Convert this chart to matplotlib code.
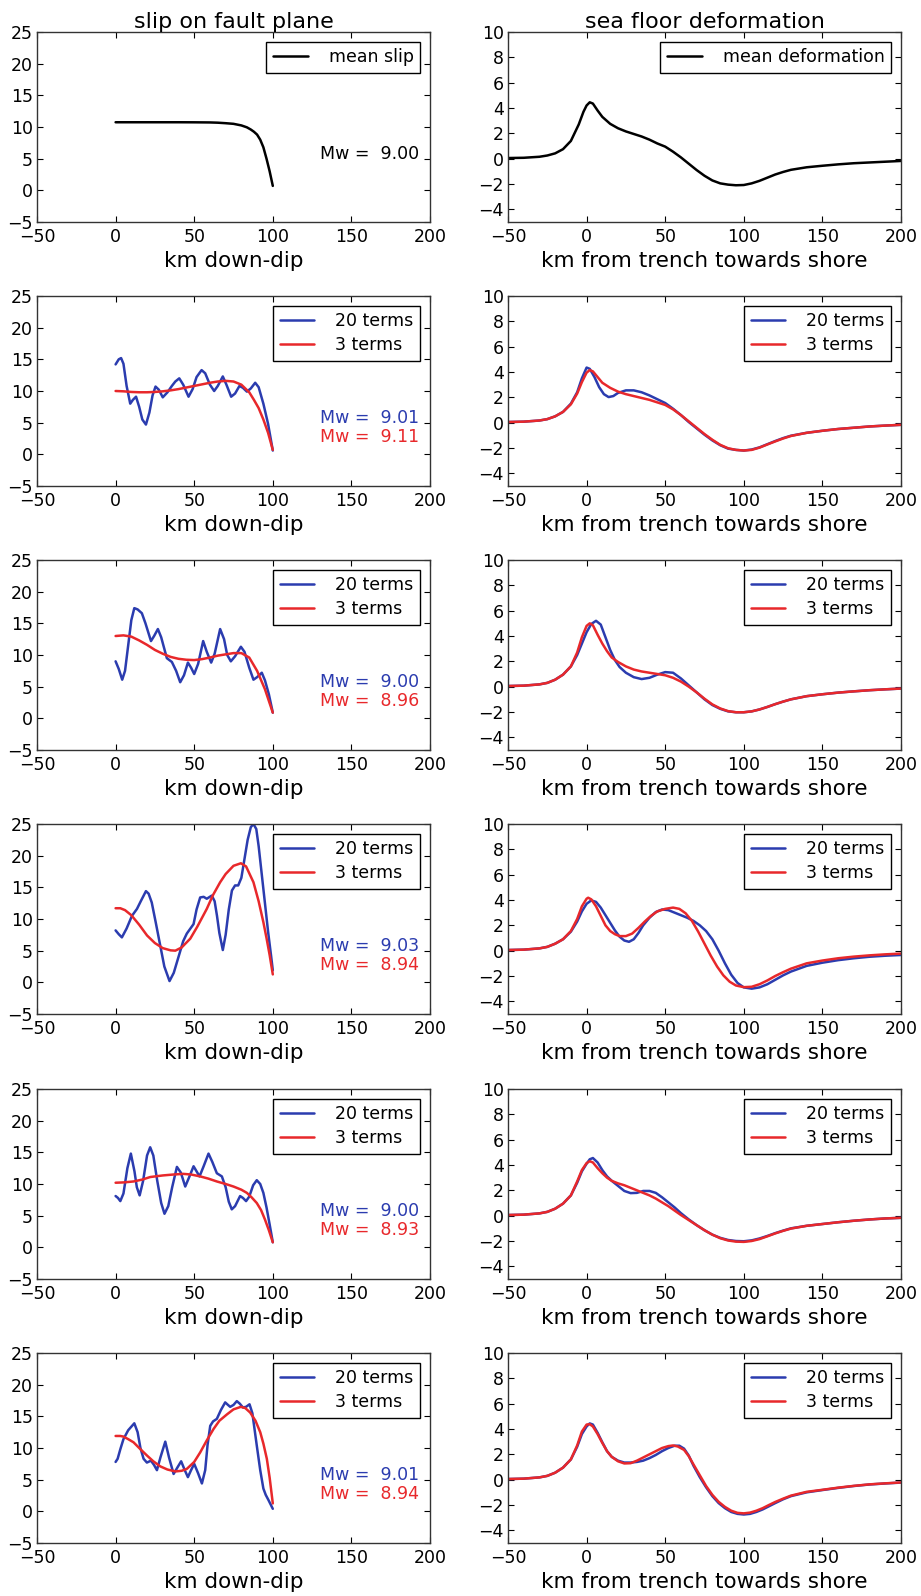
import matplotlib
matplotlib.use("Agg")
import matplotlib.pyplot as plt

BLUE = '#2b3caf'
RED = '#e8282b'

# ---------------- slip on fault plane (km down-dip, slip) ----------------
slip1_x = [0, 10, 20, 30, 40, 50, 60, 65, 70, 75, 80, 83.5, 86, 88, 90, 92, 94, 96, 98, 100]
slip1_y = [10.75, 10.75, 10.75, 10.75, 10.75, 10.74, 10.72, 10.68, 10.6, 10.5, 10.25, 9.95,
           9.6, 9.25, 8.8, 8.0, 6.8, 5.0, 3.0, 0.7]

slip2_b_x = [0, 2, 3.5, 5, 7, 9.3, 11, 13, 15, 17, 19.3, 21.5, 23.5, 25.4, 27.5, 30, 33, 35.8, 38,
             40.5, 43, 46.4, 49, 51.5, 54.7, 57, 60, 62.7, 65, 68.2, 70.5, 73.5, 76, 78.8, 81, 83.5,
             86, 88.8, 91, 94, 97, 100]
slip2_b_y = [14.2, 15.0, 15.2, 14.3, 10.8, 8.0, 8.6, 9.1, 7.5, 5.5, 4.7, 6.6, 9.3, 10.7, 10.2, 9.0,
             9.8, 10.8, 11.5, 12.0, 11.0, 9.1, 10.3, 12.2, 13.3, 12.8, 11.0, 10.0, 10.8, 12.3, 11.0,
             9.1, 9.6, 10.8, 10.5, 9.9, 10.4, 11.3, 10.6, 8.0, 4.8, 0.6]
slip2_r_x = [0, 5, 10, 15, 20, 25, 30, 35, 40, 45, 50, 55, 60, 65, 70, 75, 80, 85, 88, 91, 94, 97, 100]
slip2_r_y = [10.0, 9.95, 9.85, 9.8, 9.8, 9.85, 9.95, 10.1, 10.3, 10.55, 10.8, 11.05, 11.3, 11.5,
             11.6, 11.5, 11.0, 9.8, 8.6, 7.3, 5.5, 3.4, 0.7]

slip3_b_x = [0, 2, 4.2, 6, 8, 10, 11.9, 14, 16.7, 19, 22.5, 24.5, 26.9, 29, 32.6, 35.8, 38.5, 41.1,
             43.5, 46, 48, 50, 52.5, 55.7, 58, 60.8, 63, 66.5, 69, 71, 73.3, 76, 79.7, 82, 85, 87.7,
             90, 93, 95, 97.5, 100]
slip3_b_y = [9.0, 7.8, 6.1, 7.5, 11.5, 15.5, 17.4, 17.2, 16.6, 15.0, 12.2, 13.0, 14.1, 12.8, 9.5,
             8.9, 7.5, 5.7, 6.8, 8.8, 8.0, 7.0, 8.6, 12.2, 10.5, 8.8, 10.2, 14.1, 12.5, 10.0, 9.0,
             9.8, 11.3, 10.5, 8.0, 6.1, 6.5, 7.2, 6.0, 3.8, 0.9]
slip3_r_x = [0, 5, 10, 15, 20, 25, 30, 35, 40, 45, 50, 55, 60, 65, 70, 75, 80, 85, 90, 95, 100]
slip3_r_y = [13.0, 13.1, 12.9, 12.3, 11.6, 10.8, 10.2, 9.7, 9.4, 9.25, 9.2, 9.35, 9.6, 9.9, 10.1,
             10.3, 10.3, 9.6, 7.5, 4.6, 0.9]

slip4_b_x = [0, 2, 4, 7, 10.4, 13.6, 16, 19.3, 21, 23, 25.5, 28.4, 31, 34.3, 37, 40, 43, 45.3, 49.6,
             51.5, 53.8, 56, 58, 61.2, 63, 64.5, 66, 68.2, 70, 72, 74, 76, 78, 80, 82, 84, 86, 87.7,
             89.5, 91, 93, 95, 97, 99, 100]
slip4_b_y = [8.2, 7.6, 7.1, 8.5, 10.5, 11.6, 12.8, 14.4, 14.0, 12.6, 9.5, 5.8, 2.5, 0.2, 1.5, 4.0,
             6.5, 7.7, 9.2, 11.5, 13.4, 13.5, 13.2, 13.7, 12.8, 10.5, 7.8, 5.1, 7.5, 11.5, 14.5,
             15.3, 15.3, 16.5, 19.5, 22.5, 24.5, 25.0, 24.2, 21.5, 17.0, 12.5, 8.0, 4.0, 1.9]
slip4_r_x = [0, 3, 6, 10, 15, 20, 25, 30, 35, 38, 42, 47.5, 52, 58, 62, 66.5, 70, 75, 79.7, 83,
             87.7, 91, 94, 96, 98, 100]
slip4_r_y = [11.7, 11.7, 11.4, 10.6, 9.1, 7.4, 6.2, 5.4, 5.05, 5.0, 5.5, 6.9, 8.8, 11.6, 13.8,
             15.8, 17.1, 18.4, 18.8, 18.3, 15.8, 12.8, 9.5, 7.0, 4.3, 1.25]

slip5_b_x = [0, 1.5, 3, 5, 7.5, 9.7, 12, 13.5, 15.3, 17.5, 20, 22, 24, 26.5, 29, 31.1, 33.5, 36, 39,
             41.5, 44.3, 47, 49.6, 51.5, 53.4, 56, 59.1, 61.5, 64.4, 67.6, 70, 72, 73.9, 76, 79.2,
             81, 83, 85, 87.5, 89.8, 92, 94, 96, 98, 100]
slip5_b_y = [8.1, 7.8, 7.3, 8.5, 12.5, 14.8, 12.0, 9.5, 8.2, 10.5, 14.5, 15.8, 14.5, 10.5, 7.0, 5.3,
             6.5, 9.5, 12.7, 11.8, 9.6, 11.2, 12.8, 12.0, 11.2, 12.8, 14.8, 13.5, 11.7, 11.2, 9.5,
             7.2, 6.0, 6.5, 8.1, 7.8, 7.3, 8.0, 9.8, 10.6, 10.0, 8.6, 6.3, 3.6, 0.8]
slip5_r_x = [0, 5, 11.4, 17, 22, 30, 36.9, 43, 48, 53.8, 59, 64.4, 70, 75, 80, 83.5, 86.5, 89.8,
             92.5, 95, 97.5, 100]
slip5_r_y = [10.2, 10.25, 10.4, 10.7, 11.1, 11.35, 11.5, 11.6, 11.5, 11.2, 10.85, 10.4, 10.0, 9.6,
             9.1, 8.6, 7.9, 7.0, 5.9, 4.4, 2.7, 0.8]

slip6_b_x = [0, 1.3, 3, 5, 8, 11.9, 14, 15.8, 17.8, 19.9, 22.5, 24.5, 26.3, 28.5, 31.6, 34, 36.9,
             39.5, 41.7, 44, 46, 48, 50, 52.5, 54.9, 57, 58.5, 60.2, 62, 64.4, 67, 69.7, 71.5, 72.9,
             75, 77.1, 79, 81, 83, 85.2, 87, 89.8, 92, 94, 95.5, 97.2, 100]
slip6_b_y = [7.8, 8.3, 9.8, 11.4, 12.8, 13.9, 12.5, 10.0, 8.3, 7.7, 8.0, 7.3, 6.5, 8.5, 11.0, 8.5,
             5.9, 7.0, 7.9, 6.5, 5.4, 6.5, 7.5, 6.0, 4.4, 6.5, 10.5, 13.5, 14.2, 14.6, 16.0, 17.2,
             16.8, 16.5, 16.8, 17.4, 17.0, 16.4, 16.5, 16.9, 15.5, 10.4, 6.5, 3.6, 2.6, 1.8, 0.4]
slip6_r_x = [0, 3, 5, 8, 11.4, 15, 20, 24, 28.4, 33, 38, 42, 45.3, 50, 53.8, 58, 62.3, 66, 70.8, 75,
             79.7, 82.5, 85.6, 89, 92, 94, 96.2, 98, 100]
slip6_r_y = [11.9, 11.9, 11.8, 11.4, 10.9, 10.0, 8.8, 7.9, 7.1, 6.6, 6.3, 6.4, 6.7, 7.8, 9.3, 11.2,
             13.0, 14.3, 15.3, 16.1, 16.5, 16.3, 15.6, 14.3, 12.5, 10.7, 8.3, 5.3, 1.25]

mw_mean = 9.00
mw_20 = [9.01, 9.00, 9.03, 9.00, 9.01]
mw_3 = [9.11, 8.96, 8.94, 8.93, 8.94]

# ---------------- sea floor deformation (km from trench, deformation) ----------------
def1_x = [-50, -40, -30, -25, -20, -15, -10, -5, -2, 0, 2, 4, 7, 10, 15, 20, 25, 30, 35, 40, 45, 50,
          55, 60, 65, 70, 75, 80, 85, 90, 95, 100, 105, 110, 115, 120, 125, 130, 140, 150, 160,
          170, 180, 190, 200]
def1_y = [0.05, 0.07, 0.15, 0.25, 0.42, 0.75, 1.4, 2.7, 3.7, 4.2, 4.45, 4.35, 3.8, 3.3, 2.75, 2.4,
          2.15, 1.95, 1.75, 1.5, 1.2, 0.95, 0.55, 0.1, -0.4, -0.9, -1.35, -1.72, -1.95, -2.05,
          -2.1, -2.08, -1.95, -1.75, -1.5, -1.25, -1.05, -0.88, -0.68, -0.56, -0.45, -0.36, -0.3,
          -0.24, -0.18]

def2_b_x = [-50, -40, -30, -25, -20, -15, -10, -6, -3, 0, 2, 5, 8, 11, 14, 17, 20, 25, 30, 35, 40,
            45, 50, 55, 60, 65, 70, 75, 80, 85, 90, 95, 100, 105, 110, 115, 120, 125, 130, 140,
            150, 160, 170, 180, 190, 200]
def2_b_y = [0.05, 0.08, 0.17, 0.28, 0.5, 0.85, 1.5, 2.4, 3.5, 4.35, 4.25, 3.6, 2.8, 2.25, 2.02,
            2.1, 2.35, 2.55, 2.55, 2.4, 2.15, 1.85, 1.55, 1.1, 0.6, 0.05, -0.45, -0.95, -1.4, -1.78,
            -2.05, -2.15, -2.2, -2.12, -1.95, -1.7, -1.45, -1.22, -1.03, -0.8, -0.64, -0.5, -0.4,
            -0.3, -0.23, -0.17]
def2_r_x = [-50, -40, -30, -25, -20, -15, -10, -6, -3, 0, 2, 4, 7, 10, 15, 20, 25, 30, 35, 40, 45,
            50, 55, 60, 65, 70, 75, 80, 85, 90, 95, 100, 105, 110, 115, 120, 125, 130, 140, 150,
            160, 170, 180, 190, 200]
def2_r_y = [0.05, 0.08, 0.17, 0.28, 0.5, 0.85, 1.45, 2.3, 3.2, 3.95, 4.15, 4.05, 3.6, 3.15, 2.75,
            2.45, 2.25, 2.1, 1.95, 1.8, 1.6, 1.4, 1.05, 0.6, 0.1, -0.4, -0.9, -1.35, -1.75, -2.02,
            -2.15, -2.2, -2.15, -1.97, -1.72, -1.48, -1.25, -1.05, -0.8, -0.64, -0.5, -0.4, -0.3,
            -0.23, -0.17]

def3_b_x = [-50, -40, -30, -25, -20, -15, -10, -6, -3, 0, 3, 6, 9, 12, 15, 18, 21, 25, 30, 35, 40,
            45, 50, 55, 60, 65, 70, 75, 80, 85, 90, 95, 100, 105, 110, 115, 120, 125, 130, 140,
            150, 160, 170, 180, 190, 200]
def3_b_y = [0.05, 0.08, 0.18, 0.3, 0.55, 0.95, 1.6, 2.5, 3.4, 4.3, 4.95, 5.2, 4.9, 3.9, 2.9, 2.1,
            1.55, 1.1, 0.75, 0.6, 0.7, 0.95, 1.15, 1.1, 0.65, 0.1, -0.45, -1.0, -1.45, -1.75, -1.95,
            -2.02, -2.02, -1.95, -1.8, -1.6, -1.38, -1.18, -1.0, -0.75, -0.6, -0.47, -0.37, -0.28,
            -0.21, -0.15]
def3_r_x = [-50, -40, -30, -25, -20, -15, -10, -6, -3, 0, 2, 4, 7, 10, 13, 16, 20, 25, 30, 35, 40,
            45, 50, 55, 60, 65, 70, 75, 80, 85, 90, 95, 100, 105, 110, 115, 120, 125, 130, 140,
            150, 160, 170, 180, 190, 200]
def3_r_y = [0.05, 0.08, 0.18, 0.3, 0.55, 0.95, 1.6, 2.7, 3.9, 4.8, 5.0, 4.85, 4.1, 3.4, 2.8, 2.3,
            1.95, 1.6, 1.35, 1.2, 1.1, 1.0, 0.9, 0.7, 0.4, 0.0, -0.45, -0.95, -1.4, -1.72, -1.93,
            -2.02, -2.02, -1.95, -1.8, -1.6, -1.38, -1.18, -1.0, -0.75, -0.6, -0.47, -0.37, -0.28,
            -0.21, -0.15]

def4_b_x = [-50, -40, -30, -25, -20, -15, -10, -6, -3, 0, 3, 6, 9, 12, 15, 18, 21, 24, 27, 30, 33,
            36, 40, 44, 48, 52, 56, 60, 64, 68, 72, 76, 80, 84, 88, 92, 96, 100, 105, 110, 115,
            120, 125, 130, 140, 150, 160, 170, 180, 190, 200]
def4_b_y = [0.05, 0.08, 0.18, 0.3, 0.55, 0.9, 1.5, 2.3, 3.1, 3.7, 3.97, 3.85, 3.4, 2.8, 2.2, 1.6,
            1.1, 0.8, 0.7, 0.9, 1.4, 2.0, 2.6, 3.05, 3.25, 3.2, 3.0, 2.8, 2.6, 2.35, 2.0, 1.55,
            0.9, 0.0, -1.0, -1.9, -2.55, -2.9, -3.0, -2.9, -2.65, -2.3, -1.95, -1.65, -1.2, -0.95,
            -0.75, -0.6, -0.48, -0.4, -0.34]
def4_r_x = [-50, -40, -30, -25, -20, -15, -10, -6, -3, 0, 1, 3, 6, 9, 12, 15, 18, 21, 25, 29, 33,
            37, 41, 45, 50, 55, 59, 63, 67, 71, 75, 79, 83, 87, 91, 95, 100, 105, 110, 115, 120,
            125, 130, 140, 150, 160, 170, 180, 190, 200]
def4_r_y = [0.05, 0.08, 0.18, 0.3, 0.55, 0.9, 1.55, 2.5, 3.5, 4.1, 4.18, 4.05, 3.5, 2.75, 2.0,
            1.55, 1.3, 1.15, 1.15, 1.35, 1.8, 2.3, 2.75, 3.1, 3.3, 3.4, 3.3, 2.95, 2.35, 1.5, 0.55,
            -0.4, -1.25, -1.95, -2.45, -2.75, -2.88, -2.85, -2.65, -2.35, -2.0, -1.7, -1.42, -1.0,
            -0.78, -0.6, -0.47, -0.37, -0.29, -0.23]

def5_b_x = [-50, -40, -30, -25, -20, -15, -10, -6, -3, 0, 2, 4, 7, 10, 13, 16, 20, 24, 28, 32, 36,
            40, 44, 48, 52, 56, 60, 65, 70, 75, 80, 85, 90, 95, 100, 105, 110, 115, 120, 125, 130,
            140, 150, 160, 170, 180, 190, 200]
def5_b_y = [0.05, 0.08, 0.18, 0.3, 0.55, 0.95, 1.6, 2.6, 3.5, 4.1, 4.45, 4.55, 4.2, 3.6, 3.1,
            2.75, 2.35, 1.95, 1.78, 1.8, 1.95, 1.95, 1.8, 1.45, 1.05, 0.65, 0.2, -0.3, -0.75, -1.15,
            -1.5, -1.75, -1.92, -2.0, -2.02, -1.95, -1.8, -1.6, -1.38, -1.18, -1.0, -0.8, -0.66,
            -0.52, -0.4, -0.3, -0.22, -0.17]
def5_r_x = def5_b_x
def5_r_y = [0.05, 0.08, 0.18, 0.3, 0.55, 0.95, 1.6, 2.7, 3.6, 4.15, 4.3, 4.2, 3.75, 3.35, 3.0,
            2.75, 2.55, 2.4, 2.2, 2.0, 1.8, 1.6, 1.35, 1.05, 0.75, 0.4, 0.05, -0.35, -0.75, -1.15,
            -1.5, -1.78, -1.96, -2.05, -2.07, -2.0, -1.85, -1.63, -1.4, -1.2, -1.02, -0.8, -0.66,
            -0.52, -0.4, -0.3, -0.22, -0.17]

def6_b_x = [-50, -40, -30, -25, -20, -15, -10, -6, -3, 0, 2, 4, 7, 10, 13, 16, 20, 24, 28, 32, 36,
            40, 44, 48, 52, 56, 59, 62, 65, 68, 72, 76, 80, 84, 88, 92, 96, 100, 104, 108, 112,
            116, 120, 125, 130, 140, 150, 160, 170, 180, 190, 200]
def6_b_y = [0.05, 0.08, 0.18, 0.3, 0.55, 0.95, 1.6, 2.6, 3.6, 4.2, 4.44, 4.35, 3.7, 2.95, 2.25,
            1.8, 1.5, 1.35, 1.35, 1.4, 1.5, 1.7, 1.95, 2.25, 2.5, 2.68, 2.68, 2.45, 1.9, 1.1, 0.2,
            -0.6, -1.3, -1.85, -2.25, -2.55, -2.7, -2.75, -2.7, -2.55, -2.35, -2.1, -1.85, -1.55,
            -1.3, -1.0, -0.82, -0.65, -0.5, -0.38, -0.3, -0.23]
def6_r_x = [-50, -40, -30, -25, -20, -15, -10, -6, -3, 0, 2, 4, 7, 10, 13, 16, 20, 24, 28, 32, 36,
            40, 44, 48, 52, 55, 58, 62, 65, 68, 72, 76, 80, 84, 88, 92, 96, 100, 104, 108, 112,
            116, 120, 125, 130, 140, 150, 160, 170, 180, 190, 200]
def6_r_y = [0.05, 0.08, 0.18, 0.3, 0.55, 0.95, 1.6, 2.7, 3.8, 4.35, 4.38, 4.2, 3.6, 2.9, 2.25,
            1.8, 1.45, 1.28, 1.3, 1.5, 1.75, 2.0, 2.25, 2.5, 2.65, 2.7, 2.62, 2.35, 1.85, 1.2, 0.35,
            -0.5, -1.2, -1.75, -2.15, -2.45, -2.62, -2.66, -2.6, -2.45, -2.25, -2.0, -1.76, -1.5,
            -1.26, -0.96, -0.8, -0.63, -0.49, -0.37, -0.29, -0.22]

slip_pairs = [(slip2_b_x, slip2_b_y, slip2_r_x, slip2_r_y),
              (slip3_b_x, slip3_b_y, slip3_r_x, slip3_r_y),
              (slip4_b_x, slip4_b_y, slip4_r_x, slip4_r_y),
              (slip5_b_x, slip5_b_y, slip5_r_x, slip5_r_y),
              (slip6_b_x, slip6_b_y, slip6_r_x, slip6_r_y)]
def_pairs = [(def2_b_x, def2_b_y, def2_r_x, def2_r_y),
             (def3_b_x, def3_b_y, def3_r_x, def3_r_y),
             (def4_b_x, def4_b_y, def4_r_x, def4_r_y),
             (def5_b_x, def5_b_y, def5_r_x, def5_r_y),
             (def6_b_x, def6_b_y, def6_r_x, def6_r_y)]

plt.rcParams.update({
    'font.family': 'DejaVu Sans',
    'xtick.direction': 'in', 'ytick.direction': 'in',
    'xtick.top': True, 'ytick.right': True,
    'xtick.major.size': 4, 'ytick.major.size': 4,
    'xtick.labelsize': 12.5, 'ytick.labelsize': 12.5,
    'xtick.major.pad': 4, 'ytick.major.pad': 3,
    'axes.linewidth': 1.0,
    'axes.edgecolor': '#333333',
    'lines.solid_capstyle': 'round',
    'lines.solid_joinstyle': 'round',
})

W, H = 921, 1596
fig = plt.figure(figsize=(W / 100, H / 100), dpi=100)

row_tops = [32, 296, 560, 824, 1089, 1353]
ax_h = 190
col_lefts = [37, 508]
ax_w = 393


def make_ax(row, col):
    l = col_lefts[col] / W
    b = 1 - (row_tops[row] + ax_h) / H
    return fig.add_axes([l, b, ax_w / W, ax_h / H])


def style_slip(ax):
    ax.set_xlim(-50, 200)
    ax.set_ylim(-5, 25)
    ax.set_xticks([-50, 0, 50, 100, 150, 200])
    ax.set_yticks([-5, 0, 5, 10, 15, 20, 25])
    ax.set_xlabel('km down-dip', fontsize=15.5, labelpad=4)


def style_def(ax):
    ax.set_xlim(-50, 200)
    ax.set_ylim(-5, 10)
    ax.set_xticks([-50, 0, 50, 100, 150, 200])
    ax.set_yticks([-4, -2, 0, 2, 4, 6, 8, 10])
    ax.set_xlabel('km from trench towards shore', fontsize=15.5, labelpad=4)


def add_legend(ax):
    leg = ax.legend(loc='upper right', fontsize=12.5, fancybox=False, framealpha=1,
                    edgecolor='black', handlelength=2.0, handletextpad=1.2,
                    borderaxespad=0.55, borderpad=0.4, labelspacing=0.3)
    leg.get_frame().set_linewidth(1.0)


# first row: mean slip / mean deformation
ax = make_ax(0, 0)
ax.plot(slip1_x, slip1_y, color='black', lw=1.8, label='mean slip')
style_slip(ax)
ax.set_title('slip on fault plane', fontsize=16, pad=2)
add_legend(ax)
ax.text(130, 5, 'Mw = %5.2f' % mw_mean, fontsize=12.5, color='black')

ax = make_ax(0, 1)
ax.plot(def1_x, def1_y, color='black', lw=1.8, label='mean deformation')
style_def(ax)
ax.set_title('sea floor deformation', fontsize=16, pad=2)
add_legend(ax)

for i in range(5):
    bx, by, rx, ry = slip_pairs[i]
    ax = make_ax(i + 1, 0)
    ax.plot(bx, by, color=BLUE, lw=1.8, label='20 terms')
    ax.plot(rx, ry, color=RED, lw=1.8, label='3 terms')
    style_slip(ax)
    add_legend(ax)
    ax.text(130, 5, 'Mw = %5.2f' % mw_20[i], fontsize=12.5, color=BLUE)
    ax.text(130, 2, 'Mw = %5.2f' % mw_3[i], fontsize=12.5, color=RED)

    bx, by, rx, ry = def_pairs[i]
    ax = make_ax(i + 1, 1)
    ax.plot(bx, by, color=BLUE, lw=1.8, label='20 terms')
    ax.plot(rx, ry, color=RED, lw=1.8, label='3 terms')
    style_def(ax)
    add_legend(ax)

fig.savefig('out.png', dpi=100)
